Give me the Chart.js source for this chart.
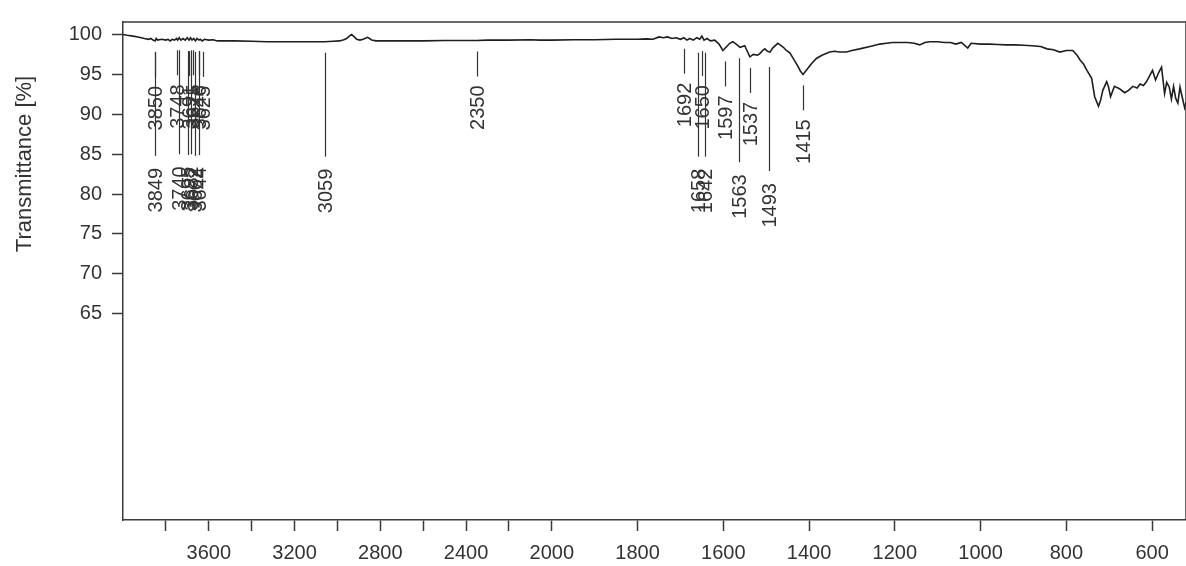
<!DOCTYPE html>
<html><head><meta charset="utf-8">
<script src="https://cdn.jsdelivr.net/npm/chart.js@4.4.0/dist/chart.umd.min.js"></script>
<style>html,body{margin:0;padding:0;background:#fff;overflow:hidden}#wrap{width:1186px;height:566px}</style>
</head><body><div id="wrap"><canvas id="c" width="1186" height="566"></canvas></div>
<script>
// ---- data ----
const wavenumbers = [
 4000,3980,3953,3930,3900,3880,3870,3860,3850,3845,3838,3820,3800,3790,3780,3770,3760,3750,3745,3738,
 3730,3720,3710,3700,3692,3685,3678,3670,3662,3655,3646,3640,3630,3620,3600,3580,3560,3520,3480,3400,
 3330,3250,3175,3100,3059,3020,2990,2970,2957,2945,2934,2925,2910,2895,2880,2860,2850,2840,2820,2800,
 2700,2600,2500,2400,2350,2300,2200,2100,2055,2000,
 1950,1900,1850,1800,1780,1764,1750,1740,1730,1720,1710,1700,1692,1685,1678,1670,1662,1655,1650,1645,
 1638,1630,1620,1610,1601,1592,1585,1578,1570,1561,1550,1545,1538,1530,1520,1515,1508,1503,1497,1491,
 1485,1473,1465,1460,1453,1445,1437,1428,1420,1414,1405,1395,1383,1370,1352,1340,1330,1313,1300,1282,1258,
 1235,1220,1205,1190,1170,1155,1142,1130,1118,1100,1085,1070,1058,1045,1030,1022,1000,980,960,940,
 920,900,880,860,845,830,815,800,785,775,768,760,752,741,734,725,720,715,706,702,
 697,688,676,664,655,645,635,628,620,613,606,599,592,585,578,571,566,560,555,550,
 545,540,535,530,524,520
];
const transmittance = [
 100.0,99.9,99.8,99.7,99.5,99.4,99.5,99.3,99.2,99.5,99.3,99.4,99.3,99.4,99.2,99.4,99.3,99.5,99.3,99.6,
 99.3,99.5,99.3,99.6,99.3,99.6,99.3,99.5,99.2,99.5,99.3,99.4,99.2,99.4,99.3,99.35,99.2,99.2,99.2,99.15,
 99.1,99.1,99.1,99.1,99.1,99.15,99.2,99.35,99.5,99.8,100.0,99.8,99.4,99.3,99.4,99.65,99.5,99.3,99.2,99.2,
 99.2,99.2,99.25,99.25,99.25,99.3,99.3,99.35,99.3,99.3,
 99.35,99.35,99.4,99.4,99.45,99.4,99.7,99.6,99.7,99.5,99.6,99.4,99.6,99.3,99.5,99.3,99.6,99.4,99.8,99.3,
 99.5,99.2,99.3,98.8,98.0,98.5,98.9,99.1,98.8,98.4,98.6,98.0,97.2,97.5,97.4,97.6,98.0,98.2,97.9,97.8,
 98.3,98.9,98.6,98.4,98.0,97.7,97.0,96.2,95.4,95.0,95.6,96.3,97.0,97.4,97.8,97.9,97.8,97.8,98.0,98.2,98.5,
 98.8,98.9,99.0,99.0,99.0,98.9,98.7,99.0,99.1,99.1,99.0,99.0,98.8,99.0,98.3,98.9,98.8,98.8,98.75,98.7,
 98.7,98.65,98.6,98.5,98.2,98.1,97.8,98.0,98.0,97.4,96.8,96.3,95.5,94.5,92.2,91.0,91.8,93.0,94.1,93.5,
 92.2,93.5,93.2,92.7,93.0,93.5,93.3,93.8,93.6,94.1,94.8,95.5,94.3,95.2,95.9,92.6,94.0,93.4,91.9,93.5,
 92.0,91.4,93.4,92.2,90.8,91.5
];
const xTickValues = [3800,3600,3400,3200,3000,2800,2600,2400,2200,2000,1800,1600,1400,1200,1000,800,600];
const xTickLabels = ['','3600','','3200','','2800','','2400','','2000','1800','1600','1400','1200','1000','800','600'];
const yTickValues = [65,70,75,80,85,90,95,100];
const yTitle = 'Transmittance [%]';
const upperPeakWn = [3850,3748,3691,3675,3646,3625,2350,1692,1650,1597,1537,1415];
const upperPeakT  = [99.2,99.4,99.3,99.4,99.3,99.2,99.25,99.6,99.3,98.0,97.2,95.0];
const lowerPeakWn = [3849,3740,3695,3682,3662,3644,3059,1658,1642,1563,1493];
const lowerPeakT  = [99.2,99.4,99.3,99.4,99.2,99.3,99.1,99.1,99.1,98.4,97.3];

// ---- split wavenumber scale (region above 2000 compressed 2x) ----
const BREAK = 2000;
const fwd = w => (w > BREAK ? BREAK + (w - BREAK) / 2 : w);
const inv = t => (t > BREAK ? BREAK + (t - BREAK) * 2 : t);
class SplitScale extends Chart.LinearScale {
  getPixelForValue(v) {
    const a = fwd(this.min), b = fwd(this.max);
    return this.getPixelForDecimal((fwd(v) - a) / (b - a));
  }
  getValueForPixel(p) {
    const a = fwd(this.min), b = fwd(this.max);
    return inv(a + this.getDecimalForPixel(p) * (b - a));
  }
}
SplitScale.id = 'split';
SplitScale.defaults = Chart.LinearScale.defaults;
Chart.register(SplitScale);

const FONT = "'Liberation Sans', Arial, sans-serif";
const INK = '#333333';
const AXIS = '#3a3a3a';
const AREA = { left: 123, top: 15, bottom: 520 };

const decorPlugin = {
  id: 'decor',
  afterDraw(chart) {
    const { ctx, chartArea: ca, scales: { x, y } } = chart;
    ctx.save();
    ctx.strokeStyle = AXIS; ctx.lineWidth = 1.5;
    ctx.beginPath();
    ctx.moveTo(ca.left, ca.top); ctx.lineTo(ca.right, ca.top); ctx.lineTo(ca.right, ca.bottom);
    ctx.stroke();
    ctx.fillStyle = INK; ctx.font = '22px ' + FONT;
    ctx.translate(25, 164); ctx.rotate(-Math.PI / 2);
    ctx.textAlign = 'center'; ctx.textBaseline = 'middle';
    ctx.fillText(yTitle, 0, 0);
    ctx.restore();
    const drawPeaks = (wns, ts, len, gap) => {
      wns.forEach((w, i) => {
        const px = Math.round(x.getPixelForValue(w)) + 0.5;
        const y0 = y.getPixelForValue(ts[i]) + 11;
        const y1 = y0 + len;
        ctx.save();
        ctx.strokeStyle = INK; ctx.lineWidth = 1.2;
        ctx.beginPath(); ctx.moveTo(px, y0); ctx.lineTo(px, y1); ctx.stroke();
        ctx.fillStyle = INK; ctx.font = '20px ' + FONT;
        ctx.translate(px, y1 + gap); ctx.rotate(-Math.PI / 2);
        ctx.textAlign = 'right'; ctx.textBaseline = 'middle';
        ctx.fillText(String(w), 0, 1);
        ctx.restore();
      });
    };
    drawPeaks(upperPeakWn, upperPeakT, 25, 9);
    drawPeaks(lowerPeakWn, lowerPeakT, 104, 12);
  }
};

const chart = new Chart(document.getElementById('c'), {
  type: 'line',
  data: {
    datasets: [{
      data: wavenumbers.map((w, i) => ({ x: w, y: transmittance[i] })),
      borderColor: '#1e1e1e', borderWidth: 1.6, pointRadius: 0, tension: 0, fill: false
    }]
  },
  options: {
    responsive: false, animation: false, devicePixelRatio: 1,
    layout: { padding: { top: 15, right: 0, left: 0, bottom: 0 } },
    plugins: { legend: { display: false }, tooltip: { enabled: false } },
    scales: {
      x: {
        type: 'split', reverse: true, min: 521, max: 4000,
        afterBuildTicks: s => { s.ticks = xTickValues.map(v => ({ value: v })); },
        afterFit: s => { s.height = 566 - AREA.bottom; },
        ticks: {
          autoSkip: false, maxRotation: 0, minRotation: 0, padding: 10,
          color: INK, font: { family: FONT, size: 20 },
          callback: (v, i) => xTickLabels[i]
        },
        grid: { drawOnChartArea: false, drawTicks: true, tickLength: 11, tickColor: AXIS, tickWidth: 1.5 },
        border: { display: true, color: AXIS, width: 1.5 }
      },
      y: {
        type: 'linear', min: 39.12, max: 101.57,
        afterBuildTicks: s => { s.ticks = yTickValues.map(v => ({ value: v })); },
        afterFit: s => { s.width = AREA.left; },
        ticks: {
          autoSkip: false, padding: 10, color: INK, font: { family: FONT, size: 20 },
          callback: v => String(v)
        },
        grid: { drawOnChartArea: false, drawTicks: true, tickLength: 11, tickColor: AXIS, tickWidth: 1.5 },
        border: { display: true, color: AXIS, width: 1.5 }
      }
    }
  },
  plugins: [decorPlugin]
});
</script></body></html>
